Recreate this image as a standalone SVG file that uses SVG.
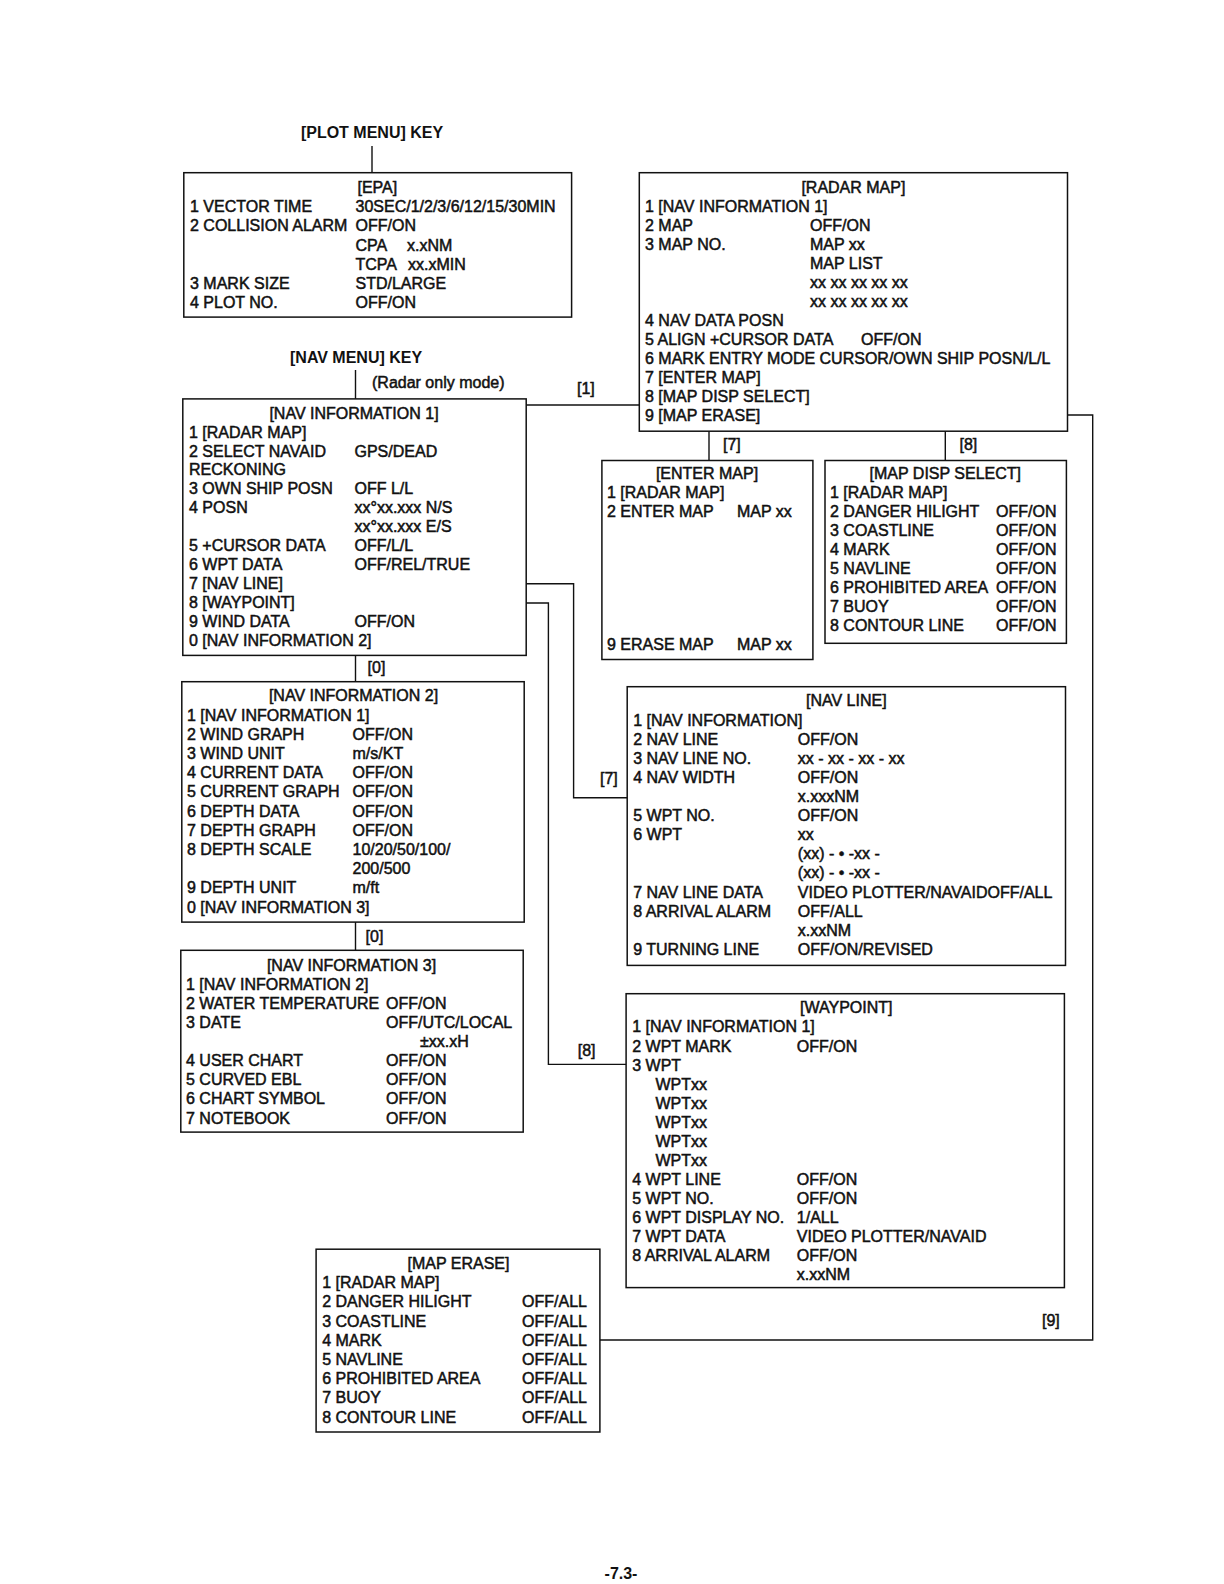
<svg xmlns="http://www.w3.org/2000/svg" width="1224" height="1584" viewBox="0 0 1224 1584">
<style>
text{font-family:"Liberation Sans",Arial,Helvetica,sans-serif;font-size:16px;fill:#111;stroke:#111;stroke-width:0.5px}
.h{font-weight:bold;stroke-width:0}
.c{text-anchor:middle}
.box{fill:#fff;stroke:#111;stroke-width:1.5}
.ln{fill:none;stroke:#111;stroke-width:1.4}
</style>
<rect width="1224" height="1584" fill="#fff"/>
<g id="connectors">
<path class="ln" d="M372 146V173"/>
<path class="ln" d="M355.5 370V399"/>
<path class="ln" d="M526 405H639"/>
<path class="ln" d="M709 431V460.5"/>
<path class="ln" d="M945.3 431V460.5"/>
<path class="ln" d="M1067.5 415H1092.7V1340H600"/>
<path class="ln" d="M526 583.7H573.6V797.8H627"/>
<path class="ln" d="M526 603H548.4V1064.4H626"/>
<path class="ln" d="M355.5 655.4V681.7"/>
<path class="ln" d="M355.5 922V950.3"/>
<text x="372" y="138" class="h c">[PLOT MENU] KEY</text>
<text x="290" y="363" class="h">[NAV MENU] KEY</text>
<text x="372" y="388">(Radar only mode)</text>
<text x="577" y="394.4">[1]</text>
<text x="723" y="450">[7]</text>
<text x="959.5" y="450">[8]</text>
<text x="367.6" y="673">[0]</text>
<text x="365.6" y="942">[0]</text>
<text x="600" y="784">[7]</text>
<text x="577.7" y="1055.9">[8]</text>
<text x="1042" y="1326">[9]</text>
</g>
<g id="epa">
<rect class="box" x="183.8" y="172.7" width="387.8" height="144.4"/>
<text x="357.5" y="193.4">[EPA]</text>
<text x="190" y="212.4">1 VECTOR TIME</text><text x="355.5" y="212.4">30SEC/1/2/3/6/12/15/30MIN</text>
<text x="190" y="231.4">2 COLLISION ALARM</text><text x="355.5" y="231.4">OFF/ON</text>
<text x="355.5" y="250.5">CPA</text><text x="407" y="250.5">x.xNM</text>
<text x="355.5" y="269.5">TCPA</text><text x="408" y="269.5">xx.xMIN</text>
<text x="190" y="288.5">3 MARK SIZE</text><text x="355.5" y="288.5">STD/LARGE</text>
<text x="190" y="307.5">4 PLOT NO.</text><text x="355.5" y="307.5">OFF/ON</text>
</g>
<g id="radar-map">
<rect class="box" x="639.3" y="172.7" width="428.2" height="258.5"/>
<text x="853.4" y="193.4" class="c">[RADAR MAP]</text>
<text x="645" y="212.3">1 [NAV INFORMATION 1]</text>
<text x="645" y="231.3">2 MAP</text><text x="810" y="231.3">OFF/ON</text>
<text x="645" y="250.2">3 MAP NO.</text><text x="810" y="250.2">MAP xx</text>
<text x="810" y="269.1">MAP LIST</text>
<text x="810" y="288.1">xx xx xx xx xx</text>
<text x="810" y="307">xx xx xx xx xx</text>
<text x="645" y="325.9">4 NAV DATA POSN</text>
<text x="645" y="344.8">5 ALIGN +CURSOR DATA</text><text x="861" y="344.8">OFF/ON</text>
<text x="645" y="363.8">6 MARK ENTRY MODE CURSOR/OWN SHIP POSN/L/L</text>
<text x="645" y="382.7">7 [ENTER MAP]</text>
<text x="645" y="401.6">8 [MAP DISP SELECT]</text>
<text x="645" y="420.6">9 [MAP ERASE]</text>
</g>
<g id="nav-info-1">
<rect class="box" x="182.8" y="398.9" width="343.4" height="256.5"/>
<text x="354" y="418.6" class="c">[NAV INFORMATION 1]</text>
<text x="189" y="437.5">1 [RADAR MAP]</text>
<text x="189" y="456.5">2 SELECT NAVAID</text><text x="354.5" y="456.5">GPS/DEAD</text>
<text x="189" y="475.4">RECKONING</text>
<text x="189" y="494.3">3 OWN SHIP POSN</text><text x="354.5" y="494.3">OFF L/L</text>
<text x="189" y="513.3">4 POSN</text><text x="354.5" y="513.3">xx°xx.xxx N/S</text>
<text x="354.5" y="532.2">xx°xx.xxx E/S</text>
<text x="189" y="551.1">5 +CURSOR DATA</text><text x="354.5" y="551.1">OFF/L/L</text>
<text x="189" y="570">6 WPT DATA</text><text x="354.5" y="570">OFF/REL/TRUE</text>
<text x="189" y="589">7 [NAV LINE]</text>
<text x="189" y="607.9">8 [WAYPOINT]</text>
<text x="189" y="626.8">9 WIND DATA</text><text x="354.5" y="626.8">OFF/ON</text>
<text x="189" y="645.8">0 [NAV INFORMATION 2]</text>
</g>
<g id="enter-map">
<rect class="box" x="601.9" y="460.5" width="211" height="199"/>
<text x="707" y="479.2" class="c">[ENTER MAP]</text>
<text x="607" y="498.1">1 [RADAR MAP]</text>
<text x="607" y="517.1">2 ENTER MAP</text><text x="737" y="517.1">MAP xx</text>
<text x="607" y="649.9">9 ERASE MAP</text><text x="737" y="649.9">MAP xx</text>
</g>
<g id="map-disp-select">
<rect class="box" x="825" y="460.5" width="241.4" height="182.8"/>
<text x="945.3" y="479.2" class="c">[MAP DISP SELECT]</text>
<text x="830" y="498.1">1 [RADAR MAP]</text>
<text x="830" y="517.1">2 DANGER HILIGHT</text><text x="996" y="517.1">OFF/ON</text>
<text x="830" y="536">3 COASTLINE</text><text x="996" y="536">OFF/ON</text>
<text x="830" y="554.9">4 MARK</text><text x="996" y="554.9">OFF/ON</text>
<text x="830" y="573.9">5 NAVLINE</text><text x="996" y="573.9">OFF/ON</text>
<text x="830" y="592.8">6 PROHIBITED AREA</text><text x="996" y="592.8">OFF/ON</text>
<text x="830" y="611.7">7 BUOY</text><text x="996" y="611.7">OFF/ON</text>
<text x="830" y="630.6">8 CONTOUR LINE</text><text x="996" y="630.6">OFF/ON</text>
</g>
<g id="nav-info-2">
<rect class="box" x="181.8" y="681.7" width="342.4" height="240.4"/>
<text x="353.5" y="701.4" class="c">[NAV INFORMATION 2]</text>
<text x="187" y="720.6">1 [NAV INFORMATION 1]</text>
<text x="187" y="739.8">2 WIND GRAPH</text><text x="352.5" y="739.8">OFF/ON</text>
<text x="187" y="759">3 WIND UNIT</text><text x="352.5" y="759">m/s/KT</text>
<text x="187" y="778.2">4 CURRENT DATA</text><text x="352.5" y="778.2">OFF/ON</text>
<text x="187" y="797.4">5 CURRENT GRAPH</text><text x="352.5" y="797.4">OFF/ON</text>
<text x="187" y="816.5">6 DEPTH DATA</text><text x="352.5" y="816.5">OFF/ON</text>
<text x="187" y="835.7">7 DEPTH GRAPH</text><text x="352.5" y="835.7">OFF/ON</text>
<text x="187" y="854.9">8 DEPTH SCALE</text><text x="352.5" y="854.9">10/20/50/100/</text>
<text x="352.5" y="874.1">200/500</text>
<text x="187" y="893.3">9 DEPTH UNIT</text><text x="352.5" y="893.3">m/ft</text>
<text x="187" y="912.5">0 [NAV INFORMATION 3]</text>
</g>
<g id="nav-info-3">
<rect class="box" x="180.8" y="950.3" width="342.4" height="181.8"/>
<text x="351.5" y="971" class="c">[NAV INFORMATION 3]</text>
<text x="186" y="990.1">1 [NAV INFORMATION 2]</text>
<text x="186" y="1009.1">2 WATER TEMPERATURE</text><text x="386" y="1009.1">OFF/ON</text>
<text x="186" y="1028.2">3 DATE</text><text x="386" y="1028.2">OFF/UTC/LOCAL</text>
<text x="420" y="1047.2">±xx.xH</text>
<text x="186" y="1066.3">4 USER CHART</text><text x="386" y="1066.3">OFF/ON</text>
<text x="186" y="1085.4">5 CURVED EBL</text><text x="386" y="1085.4">OFF/ON</text>
<text x="186" y="1104.4">6 CHART SYMBOL</text><text x="386" y="1104.4">OFF/ON</text>
<text x="186" y="1123.5">7 NOTEBOOK</text><text x="386" y="1123.5">OFF/ON</text>
</g>
<g id="nav-line">
<rect class="box" x="627.2" y="686.7" width="438.3" height="278.7"/>
<text x="846.3" y="706.4" class="c">[NAV LINE]</text>
<text x="633.2" y="725.5">1 [NAV INFORMATION]</text>
<text x="633.2" y="744.6">2 NAV LINE</text><text x="797.8" y="744.6">OFF/ON</text>
<text x="633.2" y="763.7">3 NAV LINE NO.</text><text x="797.8" y="763.7">xx - xx - xx - xx</text>
<text x="633.2" y="782.8">4 NAV WIDTH</text><text x="797.8" y="782.8">OFF/ON</text>
<text x="797.8" y="801.9">x.xxxNM</text>
<text x="633.2" y="821.1">5 WPT NO.</text><text x="797.8" y="821.1">OFF/ON</text>
<text x="633.2" y="840.2">6 WPT</text><text x="797.8" y="840.2">xx</text>
<text x="797.8" y="859.3">(xx) - • -xx -</text>
<text x="797.8" y="878.4">(xx) - • -xx -</text>
<text x="633.2" y="897.5">7 NAV LINE DATA</text><text x="797.8" y="897.5">VIDEO PLOTTER/NAVAIDOFF/ALL</text>
<text x="633.2" y="916.6">8 ARRIVAL ALARM</text><text x="797.8" y="916.6">OFF/ALL</text>
<text x="797.8" y="935.7">x.xxNM</text>
<text x="633.2" y="954.8">9 TURNING LINE</text><text x="797.8" y="954.8">OFF/ON/REVISED</text>
</g>
<g id="waypoint">
<rect class="box" x="626.1" y="993.7" width="438.3" height="293.9"/>
<text x="846.3" y="1013.4" class="c">[WAYPOINT]</text>
<text x="632.2" y="1032.4">1 [NAV INFORMATION 1]</text>
<text x="632.2" y="1051.5">2 WPT MARK</text><text x="796.8" y="1051.5">OFF/ON</text>
<text x="632.2" y="1070.5">3 WPT</text>
<text x="655.4" y="1089.6">WPTxx</text>
<text x="655.4" y="1108.6">WPTxx</text>
<text x="655.4" y="1127.6">WPTxx</text>
<text x="655.4" y="1146.7">WPTxx</text>
<text x="655.4" y="1165.7">WPTxx</text>
<text x="632.2" y="1184.8">4 WPT LINE</text><text x="796.8" y="1184.8">OFF/ON</text>
<text x="632.2" y="1203.8">5 WPT NO.</text><text x="796.8" y="1203.8">OFF/ON</text>
<text x="632.2" y="1222.8">6 WPT DISPLAY NO.</text><text x="796.8" y="1222.8">1/ALL</text>
<text x="632.2" y="1241.9">7 WPT DATA</text><text x="796.8" y="1241.9">VIDEO PLOTTER/NAVAID</text>
<text x="632.2" y="1260.9">8 ARRIVAL ALARM</text><text x="796.8" y="1260.9">OFF/ON</text>
<text x="796.8" y="1280">x.xxNM</text>
</g>
<g id="map-erase">
<rect class="box" x="316.1" y="1249.2" width="283.8" height="182.8"/>
<text x="458.5" y="1269" class="c">[MAP ERASE]</text>
<text x="322.2" y="1288.2">1 [RADAR MAP]</text>
<text x="322.2" y="1307.4">2 DANGER HILIGHT</text><text x="522.1" y="1307.4">OFF/ALL</text>
<text x="322.2" y="1326.6">3 COASTLINE</text><text x="522.1" y="1326.6">OFF/ALL</text>
<text x="322.2" y="1345.8">4 MARK</text><text x="522.1" y="1345.8">OFF/ALL</text>
<text x="322.2" y="1365">5 NAVLINE</text><text x="522.1" y="1365">OFF/ALL</text>
<text x="322.2" y="1384.1">6 PROHIBITED AREA</text><text x="522.1" y="1384.1">OFF/ALL</text>
<text x="322.2" y="1403.3">7 BUOY</text><text x="522.1" y="1403.3">OFF/ALL</text>
<text x="322.2" y="1422.5">8 CONTOUR LINE</text><text x="522.1" y="1422.5">OFF/ALL</text>
</g>
<text x="621" y="1579" class="c h">-7.3-</text>
</svg>
